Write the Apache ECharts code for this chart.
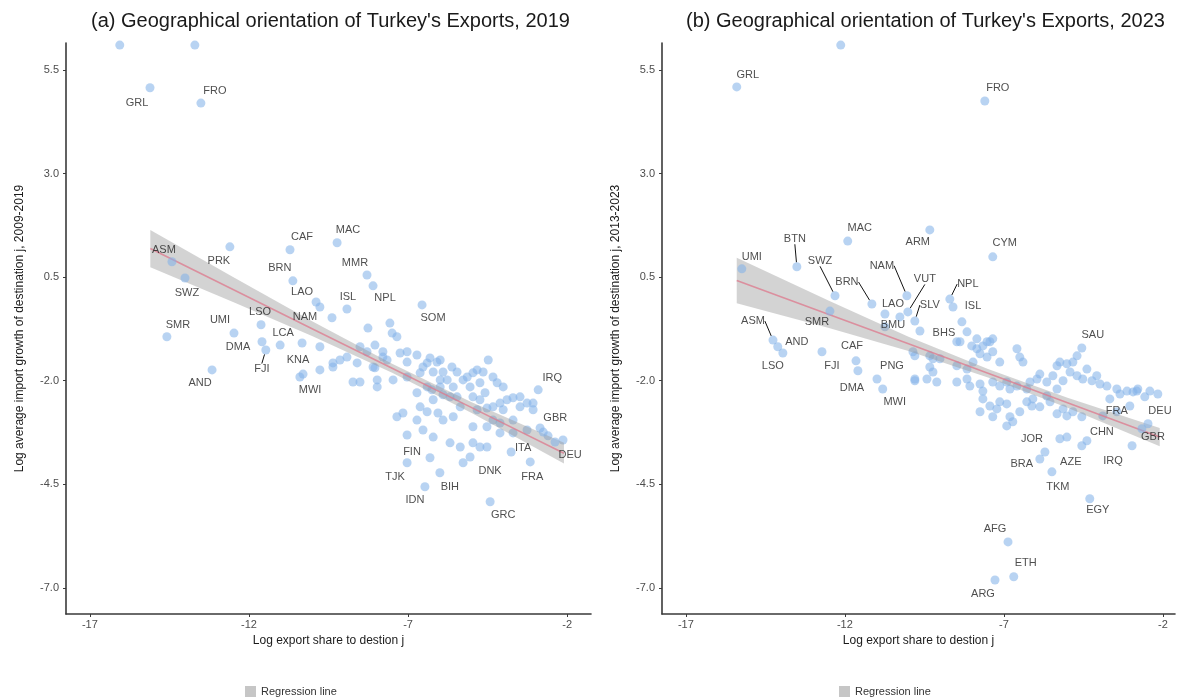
<!DOCTYPE html>
<html>
<head>
<meta charset="utf-8">
<script src="https://cdn.jsdelivr.net/npm/echarts@6/dist/echarts.min.js"></script>
<style>
  html, body { margin: 0; padding: 0; background: #fff; }
  #chart { width: 1178px; height: 697px; }
</style>
</head>
<body>
<div id="chart"></div>
<script>
// ---- data ----
const xTicks = [-17, -12, -7, -2]
const yTicks = [-7, -4.5, -2, 0.5, 3, 5.5]

// panel (a) 2019 — labelled countries
const codesA = ['GRL', 'FRO', 'ASM', 'SWZ', 'PRK', 'SMR', 'UMI', 'AND', 'DMA', 'FJI', 'LSO', 'LCA', 'CAF', 'BRN', 'LAO', 'NAM', 'KNA', 'MWI', 'MAC', 'MMR', 'NPL', 'ISL', 'SOM', 'IRQ', 'GBR', 'DEU', 'ITA', 'FRA', 'DNK', 'FIN', 'TJK', 'IDN', 'BIH', 'GRC']
const xA = [-15.11, -13.51, -14.42, -14.01, -12.60, -14.58, -12.47, -13.16, -11.59, -11.47, -11.62, -11.02, -10.71, -10.62, -9.89, -9.39, -10.33, -10.30, -9.23, -8.29, -8.10, -8.92, -6.56, -2.91, -2.75, -2.38, -3.76, -3.16, -5.27, -6.31, -7.03, -6.47, -6.00, -4.42]
const yA = [5.07, 4.70, 0.87, 0.48, 1.23, -0.94, -0.85, -1.74, -1.06, -1.26, -0.65, -1.14, 1.16, 0.41, -0.10, -0.48, -1.09, -1.84, 1.33, 0.55, 0.29, -0.27, -0.17, -2.22, -3.24, -3.48, -3.72, -3.96, -3.98, -3.86, -3.98, -4.56, -4.22, -4.92]
// panel (a) — unlabelled countries
const cloudA = [
  [-16.06, 6.1], [-13.70, 6.1], [-9.77, -0.22], [-10.40, -1.91],
  [-9.77, -1.18], [-9.77, -1.74], [-9.36, -1.67], [-9.14, -1.50], [-8.92, -1.43], [-8.73, -2.03],
  [-8.60, -1.57], [-8.51, -1.18], [-8.29, -1.30], [-8.26, -0.73], [-8.04, -1.14], [-8.10, -1.67],
  [-7.97, -2.15], [-7.79, -1.30], [-7.66, -1.50], [-7.57, -0.61], [-7.50, -0.85], [-7.35, -0.94],
  [-7.25, -1.33], [-7.79, -1.43], [-8.04, -1.69], [-7.97, -1.98], [-8.51, -2.03], [-7.47, -1.98],
  [-7.03, -1.30], [-7.03, -1.55], [-7.03, -1.91], [-6.72, -1.38], [-6.62, -1.81], [-6.53, -1.67],
  [-6.40, -1.57], [-6.40, -2.15], [-6.31, -1.45], [-6.21, -1.79], [-6.09, -1.55], [-5.99, -1.50],
  [-5.99, -1.98], [-5.90, -1.79], [-5.62, -1.67], [-5.58, -2.15], [-5.46, -1.79], [-5.27, -1.98],
  [-5.14, -1.91], [-5.05, -2.15], [-4.96, -1.81], [-4.83, -1.74], [-4.74, -2.05], [-4.64, -1.79],
  [-4.48, -1.50], [-4.33, -1.91], [-4.20, -2.05], [-4.01, -2.15], [-5.77, -1.98], [-5.99, -2.15],
  [-6.25, -2.22], [-6.72, -2.29], [-6.62, -2.63], [-6.21, -2.46], [-5.90, -2.34], [-5.68, -2.39],
  [-5.46, -2.39], [-5.36, -2.63], [-4.96, -2.39], [-4.74, -2.46], [-4.58, -2.29], [-4.83, -2.70],
  [-4.52, -2.66], [-4.33, -2.63], [-4.11, -2.54], [-3.89, -2.46], [-3.70, -2.41], [-3.48, -2.63],
  [-3.26, -2.54], [-3.07, -2.54], [-3.48, -2.39], [-3.07, -2.70], [-4.01, -2.70], [-4.33, -2.95],
  [-7.35, -2.87], [-7.03, -3.31], [-6.53, -3.19], [-6.21, -3.36], [-5.68, -3.50], [-5.36, -3.60],
  [-4.96, -3.50], [-4.74, -3.60], [-4.52, -3.60], [-5.05, -3.84], [-5.90, -2.95], [-5.58, -2.87],
  [-4.96, -3.11], [-4.52, -3.11], [-4.11, -3.02], [-3.70, -2.95], [-4.11, -3.26], [-3.70, -3.26],
  [-3.26, -3.19], [-2.85, -3.14], [-6.40, -2.75], [-6.06, -2.78], [-6.72, -2.95], [-7.16, -2.78],
  [-9.36, -1.57], [-2.60, -3.33], [-2.13, -3.43]
]
// panel (a) — regression line and its confidence band
const bandAx = [-15.1, -12.5, -10, -7.5, -5, -2.1]
const fitA = [1.19, 0.20, -0.75, -1.70, -2.65, -3.75]
const loA = [0.74, -0.10, -0.93, -1.81, -2.78, -4.00]
const hiA = [1.64, 0.50, -0.57, -1.59, -2.52, -3.50]

// panel (b) 2023 — labelled countries
const codesB = ['GRL', 'FRO', 'UMI', 'BTN', 'MAC', 'ARM', 'CYM', 'SWZ', 'BRN', 'LAO', 'NAM', 'VUT', 'SLV', 'BHS', 'BMU', 'NPL', 'ISL', 'SMR', 'ASM', 'AND', 'LSO', 'CAF', 'FJI', 'DMA', 'PNG', 'MWI', 'SAU', 'FRA', 'DEU', 'GBR', 'CHN', 'IRQ', 'JOR', 'BRA', 'AZE', 'TKM', 'EGY', 'AFG', 'ETH', 'ARG']
const xB = [-15.40, -7.60, -15.24, -13.51, -11.91, -9.33, -7.35, -12.31, -11.15, -10.74, -10.05, -10.02, -9.80, -9.64, -10.27, -8.70, -8.60, -12.47, -14.26, -14.11, -13.95, -11.65, -12.72, -11.59, -10.99, -10.81, -4.55, -3.04, -2.47, -2.66, -4.39, -2.97, -5.71, -5.87, -4.55, -5.49, -4.30, -6.87, -6.69, -7.28]
const yB = [5.09, 4.75, 0.70, 0.75, 1.37, 1.64, 0.99, 0.05, -0.15, -0.39, 0.05, -0.34, -0.56, -0.80, -0.46, -0.03, -0.22, -0.32, -1.02, -1.18, -1.33, -1.52, -1.30, -1.76, -1.96, -2.20, -1.21, -2.61, -3.04, -3.16, -3.45, -3.57, -3.72, -3.89, -3.57, -4.20, -4.85, -5.89, -6.73, -6.81]
// panel (b) — unlabelled countries
const cloudB = [
  [-12.13, 6.1], [-9.80, -1.40], [-9.80, -2.00],
  [-8.32, -0.58], [-8.16, -0.82], [-8.38, -1.06], [-8.01, -1.16], [-7.85, -1.23], [-7.66, -1.16],
  [-7.44, -1.06], [-7.75, -1.35], [-7.53, -1.43], [-7.35, -1.30], [-6.59, -1.23], [-6.50, -1.43],
  [-6.40, -1.55], [-7.13, -1.55], [-7.97, -1.55], [-8.16, -1.72], [-8.48, -1.64], [-9.23, -1.47],
  [-9.33, -1.67], [-9.80, -1.96], [-9.42, -1.96], [-9.11, -2.03], [-8.48, -2.03], [-8.16, -1.96],
  [-8.07, -2.13], [-7.75, -2.08], [-7.66, -2.25], [-7.35, -2.03], [-7.13, -2.13], [-6.91, -2.03],
  [-6.81, -2.20], [-6.59, -2.13], [-6.28, -2.20], [-6.18, -2.03], [-5.96, -1.96], [-5.87, -1.84],
  [-5.65, -2.03], [-5.46, -1.88], [-5.33, -1.64], [-5.24, -1.55], [-5.02, -1.59], [-4.83, -1.55],
  [-4.70, -1.40], [-4.92, -1.79], [-4.70, -1.88], [-4.52, -1.96], [-4.23, -2.00], [-3.98, -2.08],
  [-3.76, -2.13], [-3.45, -2.20], [-3.13, -2.25], [-2.82, -2.25], [-4.39, -1.72], [-4.08, -1.88],
  [-5.14, -2.00], [-5.33, -2.20], [-5.65, -2.37], [-6.09, -2.44], [-6.28, -2.51], [-6.12, -2.61],
  [-5.87, -2.63], [-5.55, -2.51], [-5.33, -2.80], [-5.02, -2.85], [-4.83, -2.75], [-4.55, -2.87],
  [-5.14, -2.68], [-7.13, -2.51], [-7.66, -2.44], [-7.44, -2.61], [-7.22, -2.68], [-6.91, -2.56],
  [-7.75, -2.75], [-7.35, -2.87], [-6.81, -2.87], [-6.72, -2.99], [-6.91, -3.09], [-6.50, -2.75],
  [-5.24, -3.40], [-5.02, -3.36], [-3.89, -2.85], [-3.45, -2.75], [-2.94, -2.27], [-2.79, -2.20],
  [-9.86, -1.30], [-9.23, -1.79], [-9.01, -1.47], [-9.33, -1.40], [-8.48, -1.06], [-7.85, -0.99],
  [-7.53, -1.06], [-7.35, -0.99], [-2.41, -2.25], [-2.16, -2.32], [-2.57, -2.39], [-3.35, -2.32],
  [-3.67, -2.44], [-10.74, -0.70]
]
// panel (b) — regression line and its confidence band
const bandBx = [-15.4, -12.5, -10, -7.5, -5, -2.1]
const fitB = [0.42, -0.40, -1.11, -1.82, -2.53, -3.36]
const loB = [-0.13, -0.73, -1.28, -1.92, -2.65, -3.58]
const hiB = [0.97, -0.07, -0.94, -1.72, -2.41, -3.14]

// ---- label placement (pixels from the point), and which labels get a leader line ----
const labelShiftA = {
  GRL: [-13, 15], FRO: [14, -12], ASM: [-8, -12], SWZ: [2, 15], PRK: [-11, 14], SMR: [11, -12],
  UMI: [-14, -13], AND: [-12, 13], DMA: [-24, 5], FJI: [-4, 19], LSO: [-1, -13], LCA: [3, -12],
  CAF: [12, -13], BRN: [-13, -13], LAO: [-14, -10], NAM: [-27, -1], KNA: [-4, 17], MWI: [7, 16],
  MAC: [11, -13], MMR: [-12, -12], NPL: [12, 12], ISL: [1, -12], SOM: [11, 13], IRQ: [14, -12],
  GBR: [12, -14], DEU: [15, 13], ITA: [12, -4], FRA: [2, 15], DNK: [27, 8], FIN: [-18, -6],
  TJK: [-12, 14], IDN: [-10, 13], BIH: [10, 14], GRC: [13, 13]
}
const leaderA = ['FJI']
const labelShiftB = {
  GRL: [11, -12], FRO: [13, -13], UMI: [10, -12], BTN: [-2, -28], MAC: [12, -13], ARM: [-12, 12],
  CYM: [12, -14], SWZ: [-15, -35], BRN: [-25, -22], LAO: [8, -10], NAM: [-25, -30], VUT: [17, -33],
  SLV: [15, -16], BHS: [24, 2], BMU: [-7, 8], NPL: [18, -15], ISL: [20, -1], SMR: [-13, 11],
  ASM: [-20, -19], AND: [19, -5], LSO: [-10, 13], CAF: [-4, -15], FJI: [10, 14], DMA: [-6, 17],
  PNG: [15, -13], MWI: [12, 13], SAU: [11, -13], FRA: [-13, 5], DEU: [12, -13], GBR: [11, 8],
  CHN: [15, -9], IRQ: [-19, 15], JOR: [-13, -13], BRA: [-18, 5], AZE: [-11, 16], TKM: [6, 15],
  EGY: [8, 11], AFG: [-13, -13], ETH: [12, -14], ARG: [-12, 14]
}
const leaderB = ['BTN', 'SWZ', 'BRN', 'NAM', 'VUT', 'SLV', 'NPL', 'ASM']

const FONT = '"Liberation Sans", Arial, sans-serif'
const DOT = 'rgba(132,178,232,0.72)'

const chart = echarts.init(document.getElementById('chart'))

function labelled(codes, xs, ys, leaders) {
  return codes.map((c, i) => ({
    name: c,
    value: [xs[i], ys[i]],
    labelLine: { show: leaders.indexOf(c) >= 0 }
  }))
}

function bandSeries(idx, xs, lo, hi) {
  return {
    name: 'Regression line',
    type: 'custom',
    xAxisIndex: idx,
    yAxisIndex: idx,
    z: 3,
    data: [[xs[0], lo[0]]],
    renderItem: function (params, api) {
      const pts = []
      for (let i = 0; i < xs.length; i++) pts.push(api.coord([xs[i], hi[i]]))
      for (let i = xs.length - 1; i >= 0; i--) pts.push(api.coord([xs[i], lo[i]]))
      return {
        type: 'polygon',
        shape: { points: pts },
        style: { fill: 'rgba(150,150,150,0.42)' }
      }
    },
    itemStyle: { color: '#bdbdbd' }
  }
}

function axisX(idx, min, max) {
  return {
    type: 'value',
    gridIndex: idx,
    min: min,
    max: max,
    name: 'Log export share to destion j',
    nameLocation: 'middle',
    nameGap: 20,
    nameTextStyle: { color: '#1a1a1a', fontSize: 12, fontFamily: FONT },
    axisLine: { show: true, onZero: false, lineStyle: { color: '#3a3a3a', width: 1.6 } },
    axisTick: { show: true, length: 3, customValues: xTicks, lineStyle: { color: '#3a3a3a' } },
    axisLabel: { customValues: xTicks, margin: 5, color: '#4d4d4d', fontSize: 11, fontFamily: FONT },
    splitLine: { show: false }
  }
}

function axisY(idx, title) {
  return {
    type: 'value',
    gridIndex: idx,
    min: -7.63,
    max: 6.15,
    name: title,
    nameLocation: 'middle',
    nameGap: 40,
    nameTextStyle: { color: '#1a1a1a', fontSize: 12, fontFamily: FONT },
    axisLine: { show: true, onZero: false, lineStyle: { color: '#3a3a3a', width: 1.6 } },
    axisTick: { show: true, length: 3, customValues: yTicks, lineStyle: { color: '#3a3a3a' } },
    axisLabel: {
      customValues: yTicks,
      margin: 7,
      color: '#4d4d4d',
      fontSize: 11,
      fontFamily: FONT,
      formatter: v => v.toFixed(1)
    },
    splitLine: { show: false }
  }
}

function pointSeries(idx, data, z) {
  return {
    type: 'scatter',
    xAxisIndex: idx,
    yAxisIndex: idx,
    symbolSize: 9,
    z: z,
    itemStyle: { color: DOT },
    data: data
  }
}

function labelSeries(idx, data, shifts) {
  const s = pointSeries(idx, data, 5)
  s.label = {
    show: true,
    position: 'inside',
    formatter: '{b}',
    color: '#222',
    fontSize: 11,
    fontFamily: FONT
  }
  s.labelLine = { show: false, lineStyle: { color: '#111', width: 1 } }
  s.labelLayout = function (p) {
    const sh = shifts[data[p.dataIndex].name] || [0, 0]
    return { dx: sh[0], dy: sh[1] }
  }
  return s
}

function fitSeries(idx, xs, fit) {
  return {
    type: 'line',
    xAxisIndex: idx,
    yAxisIndex: idx,
    z: 4,
    symbol: 'none',
    silent: true,
    lineStyle: { color: 'rgba(222,120,140,0.75)', width: 1.6 },
    data: xs.map((x, i) => [x, fit[i]])
  }
}

const option = {
  backgroundColor: '#fff',
  animation: false,
  textStyle: { fontFamily: FONT },
  title: [
    {
      text: "(a) Geographical orientation of Turkey's Exports, 2019",
      left: 86,
      top: 6,
      textStyle: { color: '#1a1a1a', fontSize: 20, fontWeight: 'normal', fontFamily: FONT }
    },
    {
      text: "(b) Geographical orientation of Turkey's Exports, 2023",
      left: 681,
      top: 6,
      textStyle: { color: '#1a1a1a', fontSize: 20, fontWeight: 'normal', fontFamily: FONT }
    }
  ],
  legend: [
    {
      data: ['Regression line'],
      left: 240,
      top: 681,
      icon: 'rect',
      itemWidth: 11,
      itemHeight: 11,
      itemStyle: { color: '#c6c6c6' },
      textStyle: { color: '#333', fontSize: 11, fontFamily: FONT }
    },
    {
      data: ['Regression line'],
      left: 834,
      top: 681,
      icon: 'rect',
      itemWidth: 11,
      itemHeight: 11,
      itemStyle: { color: '#c6c6c6' },
      textStyle: { color: '#333', fontSize: 11, fontFamily: FONT }
    }
  ],
  grid: [
    { left: 66, top: 43, width: 525, height: 571 },
    { left: 662, top: 43, width: 513, height: 571 }
  ],
  xAxis: [axisX(0, -17.75, -1.25), axisX(1, -17.75, -1.62)],
  yAxis: [
    axisY(0, 'Log average import growth of destination j, 2009-2019'),
    axisY(1, 'Log average import growth of destination j, 2013-2023')
  ],
  series: [
    pointSeries(0, cloudA, 2),
    bandSeries(0, bandAx, loA, hiA),
    fitSeries(0, bandAx, fitA),
    labelSeries(0, labelled(codesA, xA, yA, leaderA), labelShiftA),
    pointSeries(1, cloudB, 2),
    bandSeries(1, bandBx, loB, hiB),
    fitSeries(1, bandBx, fitB),
    labelSeries(1, labelled(codesB, xB, yB, leaderB), labelShiftB)
  ]
}

chart.setOption(option)
</script>
</body>
</html>
